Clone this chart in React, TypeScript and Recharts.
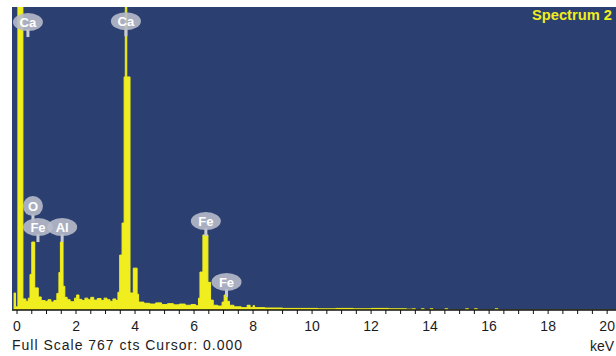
import React from "react";
import {
  AreaChart,
  Area,
  XAxis,
  YAxis,
  CartesianGrid,
  ReferenceDot,
  Customized,
} from "recharts";

// spectrum: step edges (keV) and counts per step
const energyKeV = [
  -0.17, -0.1, -0.05, 0.03, 0.2, 0.3, 0.38, 0.44, 0.5, 0.6, 0.72, 0.82, 0.95,
  1.05, 1.15, 1.25, 1.35, 1.42, 1.47, 1.56, 1.62, 1.7, 1.8, 1.95, 2.02, 2.1,
  2.2, 2.3, 2.4, 2.5, 2.6, 2.72, 2.85, 2.95, 3.05, 3.15, 3.25, 3.35, 3.42,
  3.48, 3.56, 3.63, 3.67, 3.72, 3.83, 3.94, 4.07, 4.12, 4.3, 4.5, 4.7, 4.9,
  5.1, 5.3, 5.5, 5.7, 5.9, 6.05, 6.15, 6.2, 6.3, 6.47, 6.56, 6.65, 6.8, 6.95,
  7.02, 7.12, 7.2, 7.35, 7.6, 7.8, 7.9, 8.0, 8.05, 8.4, 9.0, 9.6, 10.2, 10.8,
  11.4, 12.0, 12.6, 13.2, 13.4, 13.5, 13.7, 13.8, 14.0, 14.1, 14.5, 14.6,
  15.2, 15.3, 15.5, 15.6, 16.2, 16.3, 20.3,
];
const counts = [
  0, 43, 8, 767, 28, 22, 30, 90, 172, 56, 33, 24, 22,
  26, 20, 24, 42, 95, 172, 60, 32, 26, 21, 30, 38, 27,
  24, 30, 26, 32, 25, 29, 24, 30, 26, 22, 28, 24, 45,
  139, 220, 590, 767, 590, 43, 106, 40, 20, 17, 15, 18, 14,
  16, 13, 15, 12, 14, 11, 30, 96, 190, 70, 25, 12, 10, 20,
  38, 22, 12, 8, 6, 12, 6, 11, 6, 5, 4, 4, 3, 4,
  3, 4, 3, 2, 3, 0, 3, 0, 3, 0, 3, 0,
  3, 0, 3, 0, 3, 0, 0,
];

// element markers: name, energy and the count level of the bubble
const peakNames = ["Ca", "O", "Fe", "Al", "Ca", "Fe", "Fe"];
const peakKeV = [0.37, 0.54, 0.71, 1.53, 3.69, 6.4, 7.1];
const peakBubbleCts = [729, 263, 210, 210, 731, 225, 71];

const majorTicks = [0, 2, 4, 6, 8, 10, 12, 14, 16, 18, 20];
const allTicks = Array.from({ length: 41 }, (_, i) => i * 0.5);

const fullScale = 767;
const spectrumName = "Spectrum 2";

const data = energyKeV.map((e, i) => ({ e, c: counts[i] }));

const FONT = "'Liberation Sans', Arial, sans-serif";
const YELLOW = "#f0ee1e";

function KevTick({ x, y, payload }: any) {
  if (!majorTicks.includes(payload.value)) return <g />;
  return (
    <text
      x={x}
      y={y}
      dy="0.71em"
      textAnchor="middle"
      fontSize={14}
      fontFamily={FONT}
      fill="#1c1c1c"
    >
      {payload.value}
    </text>
  );
}

function Bubble({ cx, cy, name }: { cx: number; cy: number; name: string }) {
  const rx = name.length > 1 ? 15 : 10;
  const ry = name.length > 1 ? 9 : 10;
  return (
    <g>
      <rect x={cx - 1.5} y={cy + ry - 2} width={3} height={8} fill="#c8cbd6" />
      <ellipse cx={cx} cy={cy} rx={rx} ry={ry} fill="#b7bbca" fillOpacity={0.9} />
      <text
        x={cx}
        y={cy}
        dy="0.36em"
        textAnchor="middle"
        fontSize={13}
        fontWeight="bold"
        fontFamily={FONT}
        fill="#ffffff"
      >
        {name}
      </text>
    </g>
  );
}

export default function App() {
  return (
    <div style={{ position: "absolute", left: 0, top: 0, width: 616, height: 356, background: "#fff" }}>
      <AreaChart
        width={616}
        height={356}
        data={data}
        margin={{ top: 7, right: 0, left: 12, bottom: 16 }}
      >
        <CartesianGrid horizontal={false} vertical={false} fill="#2b3f71" stroke="none" />
        <XAxis
          dataKey="e"
          type="number"
          domain={[-0.17, 20.3]}
          ticks={allTicks}
          interval={0}
          allowDataOverflow
          height={30}
          tickSize={4}
          tickMargin={7}
          tick={<KevTick />}
          tickLine={{ stroke: "#111" }}
          axisLine={{ stroke: "#111", strokeWidth: 1.5 }}
        />
        <YAxis hide type="number" domain={[0, fullScale]} allowDataOverflow />
        <Area
          type="stepAfter"
          dataKey="c"
          stroke={YELLOW}
          strokeWidth={1}
          fill={YELLOW}
          fillOpacity={1}
          isAnimationActive={false}
          dot={false}
          activeDot={false}
        />
        {peakNames.map((n, i) => (
          <ReferenceDot
            key={i}
            x={peakKeV[i]}
            y={peakBubbleCts[i]}
            ifOverflow="visible"
            shape={(p: any) => <Bubble cx={p.cx} cy={p.cy} name={n} />}
          />
        ))}
        <Customized
          component={() => (
            <g fontFamily={FONT}>
              <text
                x={532}
                y={20}
                fontSize={14}
                fontWeight="bold"
                fill={YELLOW}
                textLength={80}
                lengthAdjust="spacingAndGlyphs"
              >
                {spectrumName}
              </text>
              <text
                x={12}
                y={350}
                fontSize={14}
                fill="#1c1c1c"
                textLength={230}
                lengthAdjust="spacing"
              >
                {`Full Scale ${fullScale} cts Cursor: 0.000`}
              </text>
              <text x={614} y={351} textAnchor="end" fontSize={14} fill="#1c1c1c">
                keV
              </text>
            </g>
          )}
        />
      </AreaChart>
    </div>
  );
}
